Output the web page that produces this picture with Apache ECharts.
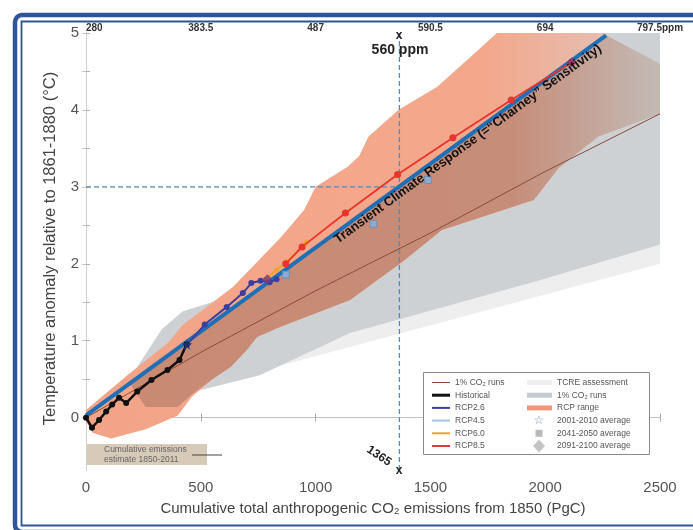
<!DOCTYPE html>
<html>
<head>
<meta charset="utf-8">
<script src="https://cdn.jsdelivr.net/npm/echarts@6/dist/echarts.min.js"></script>
<style>html,body{margin:0;padding:0;background:#fff}#main{width:693px;height:530px}</style>
</head>
<body>
<div id="main"></div>
<script>
// tick labels
var ppmLabels = ['280', '383.5', '487', '590.5', '694', '797.5ppm'];
var yTicks = [0, 1, 2, 3, 4, 5];
var yMinorTicks = [0, 0.5, 1, 1.5, 2, 2.5, 3, 3.5, 4, 4.5, 5];

// lines (cumulative PgC, °C)
var historical = [[0,0],[26,-0.13],[57,-0.03],[88,0.08],[114,0.17],[144,0.26],[175,0.19],[223,0.34],[285,0.49],[355,0.62],[407,0.75],[438,0.95]];
var rcp26 = [[440,0.95],[517,1.21],[613,1.44],[683,1.62],[720,1.75],[760,1.78],[800,1.76],[830,1.8]];
var rcp45 = [[440,0.99],[560,1.26],[700,1.57],[800,1.78],[880,1.93]];
var rcp60 = [[780,1.8],[830,1.92],[875,2.03],[960,2.28]];
var rcp85 = [[870,2.0],[941,2.22],[1130,2.66],[1357,3.16],[1598,3.64],[1852,4.13],[2115,4.62]];
var onePctMean = [[0,0],[500,0.85],[1000,1.65],[1500,2.4],[2000,3.2],[2500,3.95]];
var tcrLine = [[0,0.03],[2265,4.97]];

// shaded ranges (outline points)
var tcreRange = [[0,0],[2500,2.0],[2500,5],[2000,5]];
var onePctRange = [[0,0],[200,0.55],[330,1.15],[420,1.38],[600,1.55],[1000,2.15],[1500,3.2],[2260,5],[2500,5],
                   [2500,2.25],[1980,1.79],[1150,1.1],[757,0.55],[500,0.36],[250,0.16]];
var rcpRange = [[0,0.1],[180,0.55],[360,0.98],[420,1.2],[640,1.7],[850,2.35],[950,2.7],[1000,3.0],[1140,3.26],[1190,3.4],
                [1230,3.65],[1360,4.0],[1530,4.3],[1660,4.65],[1790,5.0],[2260,5.0],[2500,4.3],
                [2500,3.95],[2230,3.65],[2060,3.25],[1950,2.83],[1550,2.44],[1380,2.03],[1150,1.53],[845,1.18],[745,1.05],
                [700,0.88],[630,0.66],[550,0.5],[460,0.27],[400,0.03],[260,-0.15],[110,-0.27],[30,-0.2],[0,-0.05]];
var overlapRange = [[190,0.45],[2265,4.97],[2500,4.6],
                    [2500,3.95],[2230,3.65],[2060,3.25],[1950,2.83],[1550,2.44],[1380,2.03],[1150,1.53],[845,1.18],[745,1.05],
                    [700,0.88],[630,0.66],[550,0.5],[460,0.3],[400,0.14],[260,0.14]];

// period averages
var avg2001 = [[440,0.95]];
var avg2041 = [[870,1.86],[1252,2.52],[1489,3.09]];
var avg2091 = [[790,1.8],[2115,4.62]];

// 560 ppm guide
var x560 = 1365, y560 = 3;

var myChart = echarts.init(document.getElementById('main'));
var font = 'Arial, "Liberation Sans", sans-serif';
var starPath = 'path://M50,0 L61,35 L98,35 L68,57 L79,91 L50,70 L21,91 L32,57 L2,35 L39,35 Z';

function area(name, pts, fill, z) {
    return {
        type: 'custom', name: name, silent: true, z: z, clip: true,
        data: [[0, 0]],
        renderItem: function (params, api) {
            var p = pts.map(function (d) { return api.coord(d); });
            return { type: 'polygon', shape: { points: p }, style: { fill: fill } };
        }
    };
}
function line(name, data, color, width, z, sym, symSize) {
    return {
        type: 'line', name: name, data: data, z: z, silent: true,
        symbol: sym || 'none', symbolSize: symSize || 0,
        itemStyle: { color: color },
        lineStyle: { color: color, width: width }
    };
}

var salmonFill = new echarts.graphic.LinearGradient(0, 0, 1, 0, [
    { offset: 0, color: '#f3a488' }, { offset: 0.7, color: '#f3a88c' }, { offset: 1, color: '#dfc9c1' }]);
var darkFill = new echarts.graphic.LinearGradient(0, 0, 1, 0, [
    { offset: 0, color: '#c98a73' }, { offset: 0.72, color: '#c68d79' }, { offset: 1, color: '#c3bab6' }]);

var series = [
    area('TCRE assessment', tcreRange, '#eeeeee', 1),
    area('1% CO2 runs range', onePctRange, '#ced1d4', 2),
    area('RCP range', rcpRange, salmonFill, 3),
    area('overlap', overlapRange, darkFill, 4),
    line('1% CO2 runs', onePctMean, '#8b4a3a', 1, 5),
    {
        type: 'line', name: 'guide v', data: [[x560, -0.68], [x560, 5]], z: 6, silent: true, symbol: 'none',
        lineStyle: { color: '#5288c4', width: 1.3, type: [5, 3] }
    },
    {
        type: 'line', name: 'guide h', data: [[0, y560], [x560, y560]], z: 6, silent: true, symbol: 'none',
        lineStyle: { color: '#5288c4', width: 1.3, type: [5, 3] }
    },
    line('RCP4.5', rcp45, '#8fc0ea', 2.5, 7),
    line('TCR', tcrLine, '#1f6fb6', 4, 8),
    line('RCP6.0', rcp60, '#f4a02a', 2, 9, 'circle', 5),
    line('RCP8.5', rcp85, '#e8342c', 1.8, 10, 'circle', 7),
    line('RCP2.6', rcp26, '#3c3f9e', 2, 11, 'circle', 6),
    line('Historical', historical, '#111111', 2.5, 12, 'circle', 6),
    { type: 'scatter', name: '2001-2010', data: avg2001, symbol: starPath, symbolSize: 11, z: 13, silent: true,
      itemStyle: { color: '#23397a' } },
    { type: 'scatter', name: '2041-2050', data: avg2041, symbol: 'rect', symbolSize: 7, z: 13, silent: true,
      itemStyle: { color: '#7fb3e3', borderColor: '#4d86c0', borderWidth: 0.8 } },
    { type: 'scatter', name: '2091-2100', data: avg2091, symbol: 'diamond', symbolSize: 10, z: 13, silent: true,
      itemStyle: { color: '#7a3b78' } }
];

// legend drawn as graphic
var legendLeft = [
    ['1% CO\u2082 runs', '#8b4a3a', 1],
    ['Historical', '#111', 3],
    ['RCP2.6', '#3c3f9e', 2],
    ['RCP4.5', '#9cc6ea', 2],
    ['RCP6.0', '#f0a030', 2],
    ['RCP8.5', '#e0363a', 2]
];
var legendRight = ['TCRE assessment', '1% CO\u2082 runs', 'RCP range', '2001-2010 average', '2041-2050 average', '2091-2100 average'];
var lgFont = '8.5px ' + font;
var g = [];
g.push({ type: 'rect', shape: { x: 15, y: 15, width: 700, height: 517, r: 7 }, style: { fill: null, stroke: '#2f5597', lineWidth: 4.5 }, z: 100 });
g.push({ type: 'rect', shape: { x: 21.5, y: 21.5, width: 700, height: 504 }, style: { fill: null, stroke: '#2f5597', lineWidth: 1.8 }, z: 100 });
g.push({ type: 'rect', shape: { x: 423.5, y: 372.5, width: 226, height: 82 }, style: { fill: '#fff', stroke: '#8a8a8a', lineWidth: 1 }, z: 50 });
legendLeft.forEach(function (it, i) {
    var y = 382.5 + i * 12.7;
    g.push({ type: 'line', shape: { x1: 432, y1: y, x2: 450, y2: y }, style: { stroke: it[1], lineWidth: it[2] }, z: 51 });
    g.push({ type: 'text', x: 455, y: y, style: { text: it[0], font: lgFont, fill: '#555', verticalAlign: 'middle' }, z: 51 });
});
legendRight.forEach(function (t, i) {
    var y = 382.5 + i * 12.7;
    g.push({ type: 'text', x: 557, y: y, style: { text: t, font: lgFont, fill: '#555', verticalAlign: 'middle' }, z: 51 });
});
g.push({ type: 'rect', shape: { x: 527, y: 380, width: 25, height: 5 }, style: { fill: '#efefef' }, z: 51 });
g.push({ type: 'rect', shape: { x: 527, y: 392.7, width: 25, height: 5 }, style: { fill: '#c6cbd0' }, z: 51 });
g.push({ type: 'rect', shape: { x: 527, y: 405.4, width: 25, height: 5 }, style: { fill: '#f0977b' }, z: 51 });
g.push({ type: 'text', x: 539, y: 420.6, style: { text: '\u2606', font: 'bold 12px "DejaVu Sans"', fill: '#7d8fb0', align: 'center', verticalAlign: 'middle' }, z: 51 });
g.push({ type: 'rect', shape: { x: 535.5, y: 429.8, width: 7, height: 7 }, style: { fill: '#b9b9b9' }, z: 51 });
g.push({ type: 'polygon', shape: { points: [[539, 439.5], [545, 446], [539, 452.5], [533, 446]] }, style: { fill: '#c4c4c4' }, z: 51 });

// cumulative emissions box
g.push({ type: 'rect', shape: { x: 87, y: 444, width: 120, height: 21 }, style: { fill: '#d8cab8' }, z: 50 });
g.push({ type: 'text', x: 104, y: 449.5, style: { text: 'Cumulative emissions', font: lgFont, fill: '#666', verticalAlign: 'middle' }, z: 51 });
g.push({ type: 'text', x: 104, y: 460, style: { text: 'estimate 1850-2011', font: lgFont, fill: '#666', verticalAlign: 'middle' }, z: 51 });
g.push({ type: 'line', shape: { x1: 192, y1: 455, x2: 222, y2: 455 }, style: { stroke: '#444', lineWidth: 1 }, z: 51 });

// annotations
g.push({ type: 'text', x: 399, y: 36, style: { text: 'x', font: 'bold 12px ' + font, fill: '#222', align: 'center', verticalAlign: 'middle' }, z: 60 });
g.push({ type: 'text', x: 400, y: 50, style: { text: '560 ppm', font: 'bold 14px ' + font, fill: '#222', align: 'center', verticalAlign: 'middle' }, z: 60 });
g.push({ type: 'text', x: 379, y: 456, rotation: -0.6, style: { text: '1365', font: 'bold 12px ' + font, fill: '#222', align: 'center', verticalAlign: 'middle' }, z: 60 });
g.push({ type: 'text', x: 399, y: 471, style: { text: 'x', font: 'bold 12px ' + font, fill: '#222', align: 'center', verticalAlign: 'middle' }, z: 60 });
g.push({ type: 'text', x: 468, y: 144, rotation: 0.632, style: { text: 'Transient Climate Response (=\u201cCharney\u201d Sensitivity)', font: 'bold 13px ' + font, fill: '#111', align: 'center', verticalAlign: 'middle' }, z: 60 });

var option = {
    animation: false,
    backgroundColor: '#fff',
    textStyle: { fontFamily: font },
    grid: { left: 86, right: 33, top: 33, bottom: 60 },
    xAxis: [{
        type: 'value', position: 'bottom', min: 0, max: 2500, interval: 500,
        splitLine: { show: false },
        axisLine: { lineStyle: { color: '#a0a0a0' } },
        axisTick: { inside: true, length: 4, lineStyle: { color: '#a0a0a0' } },
        axisLabel: { color: '#555', fontSize: 15, margin: 10, formatter: function (v) { return String(v); } },
        name: 'Cumulative total anthropogenic CO\u2082 emissions from 1850 (PgC)',
        nameLocation: 'middle', nameGap: 31,
        nameTextStyle: { color: '#444', fontSize: 15 }
    }, {
        type: 'value', position: 'top', min: 0, max: 2500, interval: 500,
        splitLine: { show: false },
        axisLine: { lineStyle: { color: '#c0c0c0' } },
        axisTick: { inside: true, length: 4, lineStyle: { color: '#b0b0b0' } },
        axisLabel: {
            color: '#333', fontSize: 10, fontWeight: 'bold', margin: 0, alignMinLabel: 'left',
            formatter: function (v) { return ppmLabels[Math.round(v / 500)]; }
        }
    }],
    yAxis: [{
        type: 'value', position: 'left', min: -0.68, max: 5,
        splitLine: { show: false },
        axisLine: { lineStyle: { color: '#a0a0a0' } },
        axisTick: { inside: true, length: 4, customValues: yMinorTicks, lineStyle: { color: '#b0b0b0' } },
        axisLabel: { color: '#555', fontSize: 15, margin: 7, customValues: yTicks },
        name: 'Temperature anomaly relative to 1861-1880 (\u00b0C)',
        nameLocation: 'middle', nameGap: 27,
        nameTextStyle: { color: '#444', fontSize: 16.5, padding: [0, 0, 0, 6] }
    }, {
        type: 'value', position: 'right', min: -0.68, max: 5,
        splitLine: { show: false },
        axisLine: { show: true, lineStyle: { color: '#d0d0d0' } },
        axisTick: { inside: true, length: 4, customValues: yMinorTicks, lineStyle: { color: '#c8c8c8' } },
        axisLabel: { show: false }
    }],
    series: series,
    graphic: g
};
myChart.setOption(option);
</script>
</body>
</html>
